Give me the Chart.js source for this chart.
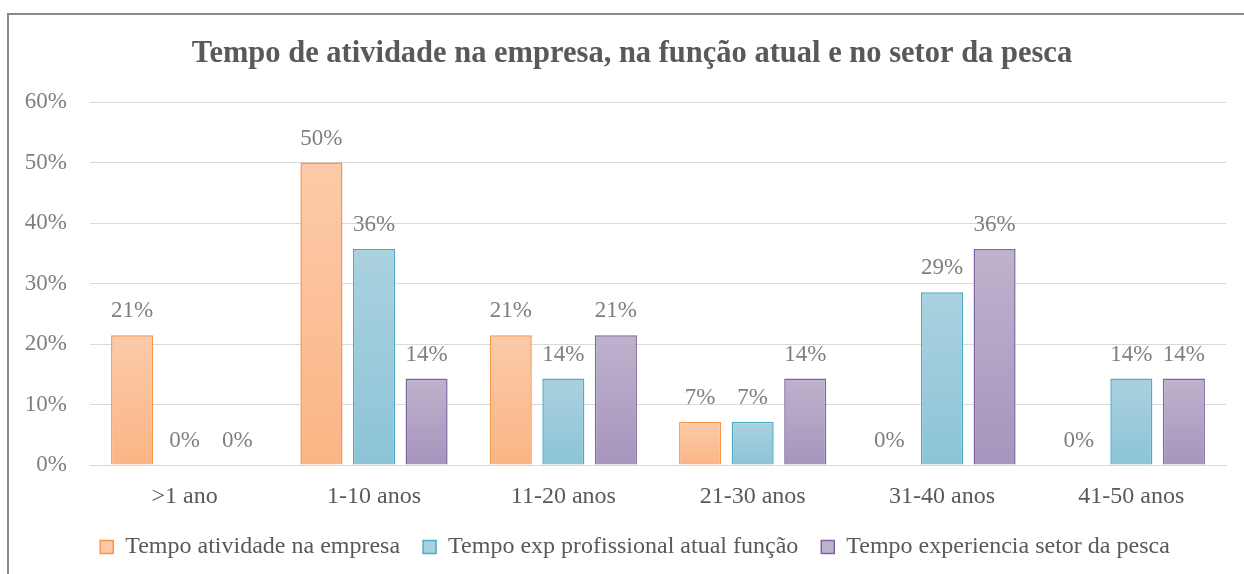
<!DOCTYPE html>
<html>
<head>
<meta charset="utf-8">
<script src="https://cdn.jsdelivr.net/npm/chart.js@4.4.1/dist/chart.umd.min.js"></script>
<style>
  body { margin: 0; background: #fff; }
  #wrap { position: relative; width: 1244px; height: 574px; overflow: hidden; }
  #frame { position: absolute; left: 7px; top: 13px; width: 1400px; height: 700px; border: 2px solid #8a8a8a; }
  canvas { position: absolute; left: 0; top: 0; }
</style>
</head>
<body>
<div id="wrap">
  <div id="frame"></div>
  <canvas id="myChart" width="1244" height="574"></canvas>
</div>
<script>
const categories = ['>1 ano', '1-10 anos', '11-20 anos', '21-30 anos', '31-40 anos', '41-50 anos'];
const seriesNames = ['Tempo atividade na empresa', 'Tempo exp profissional atual função', 'Tempo experiencia setor da pesca'];
const empresa = [21.43, 50, 21.43, 7.14, 0, 0];
const funcao = [0, 35.71, 14.29, 7.14, 28.57, 14.29];
const pesca = [0, 14.29, 21.43, 14.29, 35.71, 14.29];
const yTicks = [0, 10, 20, 30, 40, 50, 60];

const serif = '"Liberation Serif", "Times New Roman", serif';

// top colour, bottom colour, border colour for each series
const looks = [
    ['#fccaa9', '#fbb585', '#f79646'],
    ['#aad1df', '#8cc4d7', '#4bacc6'],
    ['#beb2cd', '#a695bd', '#8064a2']
];

// each bar gets its own gradient, light at the top, darker at the base
function barGradient(look) {
    return function (context) {
        let chart = context.chart;
        let y = chart.scales.y;
        if (!chart.chartArea || !y || context.raw === undefined) return look[0];
        let top = y.getPixelForValue(context.raw);
        let base = y.getPixelForValue(0);
        if (base - top < 1) return look[0];
        let g = chart.ctx.createLinearGradient(0, top, 0, base);
        g.addColorStop(0, look[0]);
        g.addColorStop(1, look[1]);
        return g;
    };
}

function makeSet(name, data, look) {
    return {
        label: name,
        data: data,
        backgroundColor: barGradient(look),
        borderColor: look[2],
        borderWidth: 1.5,
        borderSkipped: 'bottom',
        categoryPercentage: 0.833,
        barPercentage: 0.8
    };
}

// value labels above each bar
const valueLabels = {
    id: 'valueLabels',
    afterDatasetsDraw(chart) {
        let ctx = chart.ctx;
        ctx.save();
        ctx.font = '23px ' + serif;
        ctx.fillStyle = '#7f7f7f';
        ctx.textAlign = 'center';
        ctx.textBaseline = 'middle';
        chart.data.datasets.forEach((ds, i) => {
            chart.getDatasetMeta(i).data.forEach((bar, j) => {
                ctx.fillText(Math.round(ds.data[j]) + '%', bar.x, bar.y - 24);
            });
        });
        ctx.restore();
    }
};

// title and legend sit a bit right of the canvas centre, like the original
const nudgeBlocks = {
    id: 'nudgeBlocks',
    afterLayout(chart) {
        if (chart.titleBlock) { chart.titleBlock.left += 19; chart.titleBlock.right += 19; }
        if (chart.legend) { chart.legend.left += 22; chart.legend.right += 22; }
    }
};

const ctx = document.getElementById('myChart');
new Chart(ctx, {
    type: 'bar',
    data: {
        labels: categories,
        datasets: [
            makeSet(seriesNames[0], empresa, looks[0]),
            makeSet(seriesNames[1], funcao, looks[1]),
            makeSet(seriesNames[2], pesca, looks[2])
        ]
    },
    plugins: [valueLabels, nudgeBlocks],
    options: {
        responsive: false,
        animation: false,
        layout: { padding: { left: 0, right: 18, top: 0, bottom: 5 } },
        plugins: {
            title: {
                display: true,
                text: 'Tempo de atividade na empresa, na função atual e no setor da pesca',
                color: '#595959',
                font: { family: serif, size: 30.5, weight: 'bold' },
                padding: { top: 36, bottom: 29.4 }
            },
            legend: {
                position: 'bottom',
                labels: {
                    color: '#595959',
                    font: { family: serif, size: 24 },
                    boxWidth: 13,
                    boxHeight: 13,
                    padding: 17,
                    generateLabels(chart) {
                        return chart.data.datasets.map((ds, i) => ({
                            text: i < 2 ? ds.label + ' ' : ds.label,
                            fillStyle: looks[i][0],
                            strokeStyle: looks[i][2],
                            lineWidth: 1.5,
                            fontColor: '#595959',
                            datasetIndex: i
                        }));
                    }
                }
            },
            tooltip: { enabled: false }
        },
        scales: {
            x: {
                afterFit(scale) { scale.height = 53; },
                grid: { display: false, drawTicks: false },
                border: { color: '#d9d9d9', width: 1 },
                ticks: { color: '#595959', font: { family: serif, size: 24 }, padding: 17 }
            },
            y: {
                min: 0,
                max: 60,
                afterFit(scale) { scale.width = 90; },
                afterBuildTicks(scale) { scale.ticks = yTicks.map(v => ({ value: v })); },
                grid: { color: '#d9d9d9', lineWidth: 1, drawTicks: false },
                border: { display: false },
                ticks: {
                    color: '#7f7f7f',
                    font: { family: serif, size: 23 },
                    padding: 23,
                    callback: v => v + '%'
                }
            }
        }
    }
});
</script>
</body>
</html>
